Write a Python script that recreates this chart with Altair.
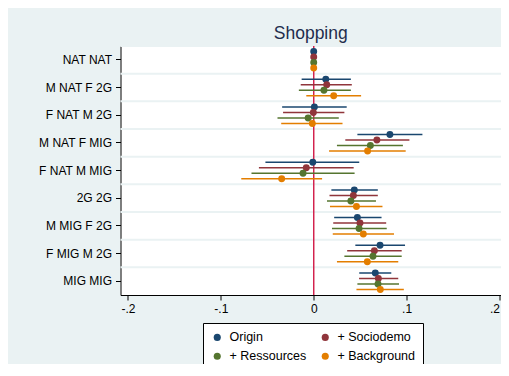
import altair as alt
import pandas as pd

categories = ["NAT NAT", "M NAT F 2G", "F NAT M 2G", "M NAT F MIG", "F NAT M MIG",
              "2G 2G", "M MIG F 2G", "F MIG M 2G", "MIG MIG"]
series = ["Origin", "+ Sociodemo", "+ Ressources", "+ Background"]
colors = ["#1a476f", "#90353b", "#55752f", "#e37e00"]

origin_coef = [0, 0.013, 0.0007, 0.082, -0.001, 0.0437, 0.047, 0.0714, 0.0663]
origin_lo = [0, -0.013, -0.034, 0.047, -0.052, 0.019, 0.022, 0.0448, 0.049]
origin_hi = [0, 0.040, 0.0355, 0.117, 0.049, 0.069, 0.073, 0.0983, 0.0835]

socio_coef = [0, 0.014, -0.0004, 0.068, -0.008, 0.0427, 0.0498, 0.0653, 0.0696]
socio_lo = [0, -0.014, -0.033, 0.034, -0.059, 0.017, 0.021, 0.036, 0.0488]
socio_hi = [0, 0.041, 0.033, 0.103, 0.043, 0.069, 0.078, 0.0947, 0.091]

res_coef = [0, 0.011, -0.006, 0.061, -0.0115, 0.040, 0.0488, 0.0638, 0.0692]
res_lo = [0, -0.016, -0.039, 0.025, -0.067, 0.0143, 0.0197, 0.033, 0.047]
res_hi = [0, 0.040, 0.027, 0.096, 0.044, 0.067, 0.0786, 0.0947, 0.0918]

bg_coef = [0, 0.0215, -0.0015, 0.058, -0.0345, 0.046, 0.0534, 0.0577, 0.0717]
bg_lo = [0, -0.008, -0.035, 0.0165, -0.078, 0.0175, 0.0205, 0.025, 0.046]
bg_hi = [0, 0.051, 0.031, 0.099, 0.009, 0.074, 0.0864, 0.091, 0.097]

x_ticks = [-0.2, -0.1, 0, 0.1, 0.2]
x_tick_labels = ["-.2", "-.1", "0", ".1", ".2"]

coefs = [origin_coef, socio_coef, res_coef, bg_coef]
los = [origin_lo, socio_lo, res_lo, bg_lo]
his = [origin_hi, socio_hi, res_hi, bg_hi]

rows = []
for s, c, l, h in zip(series, coefs, los, his):
    for cat, cv, lv, hv in zip(categories, c, l, h):
        rows.append({"category": cat, "series": s, "coef": cv, "lo": lv, "hi": hv})
df = pd.DataFrame(rows)
grid_df = pd.DataFrame({"category": categories})
zero_df = pd.DataFrame({"zero": [0]})

FONT = "Liberation Sans"

label_expr = " : ".join(
    [f"datum.value == {v} ? '{t}'" for v, t in zip(x_ticks, x_tick_labels)] + ["''"]
)

y_scale = alt.Scale(type="band", domain=categories, paddingInner=0, paddingOuter=0)
x_scale = alt.Scale(domain=[-0.208, 0.2016], nice=False, zero=False)
yoff_scale = alt.Scale(domain=series, paddingInner=0, paddingOuter=0.515)
color_scale = alt.Scale(domain=series, range=colors)

y_axis = alt.Axis(title=None, labelFont=FONT, labelFontSize=12, labelColor="black",
                  tickSize=5, tickColor="black", domainColor="black", labelPadding=4,
                  grid=False, labelLimit=200)
x_axis = alt.Axis(title=None, values=x_ticks, labelExpr=label_expr, labelFont=FONT,
                  labelFontSize=12, labelColor="black", tickSize=5, tickColor="black",
                  domainColor="black", grid=False, labelPadding=3,
                  labelAlign={"condition": {"test": "datum.value >= 0.2", "value": "right"},
                              "value": "center"})

grid = alt.Chart(grid_df).mark_rule(color="#eaf2f3", strokeWidth=2).encode(
    y=alt.Y("category:N", scale=y_scale, sort=categories, bandPosition=0, axis=y_axis)
)

zero_line = alt.Chart(zero_df).mark_rule(color="#d3224e", strokeWidth=1.5).encode(
    x=alt.X("zero:Q", scale=x_scale, axis=x_axis)
)

bars = alt.Chart(df).mark_rule(strokeWidth=1.5).encode(
    y=alt.Y("category:N", scale=y_scale, sort=categories, axis=y_axis),
    yOffset=alt.YOffset("series:N", scale=yoff_scale, sort=series),
    x=alt.X("lo:Q", scale=x_scale, axis=x_axis),
    x2="hi:Q",
    stroke=alt.Stroke("series:N", scale=color_scale, legend=None),
)

points = alt.Chart(df).mark_circle(size=48, opacity=1).encode(
    y=alt.Y("category:N", scale=y_scale, sort=categories, axis=y_axis),
    yOffset=alt.YOffset("series:N", scale=yoff_scale, sort=series),
    x=alt.X("coef:Q", scale=x_scale, axis=x_axis),
    color=alt.Color("series:N", scale=color_scale, sort=series,
                    legend=alt.Legend(orient="none", legendX=82.5, legendY=277, columns=2,
                                      direction="horizontal", title=None,
                                      fillColor="white", strokeColor="black",
                                      padding=8, rowPadding=6, columnPadding=12,
                                      labelFont=FONT, labelFontSize=12.5,
                                      labelColor="black", symbolSize=50,
                                      symbolType="circle", labelOffset=6,
                                      symbolStrokeWidth=0)),
)

chart = alt.layer(grid, zero_line, bars, points).properties(
    width=380.5,
    height=249,
    title=alt.TitleParams("Shopping", fontSize=17.5, font=FONT, fontWeight="normal",
                          color="#1f2d4d", anchor="middle", offset=7, dy=18,
                          baseline="alphabetic"),
    autosize=alt.AutoSizeParams(type="none"),
    padding={"left": 112.5, "top": 38, "right": 0, "bottom": 69},
    background="#eaf2f3",
).resolve_scale(color="independent", stroke="independent").configure_view(
    fill="white", strokeWidth=0)

chart.save("out.html", embed_options={"renderer": "svg", "actions": False})
